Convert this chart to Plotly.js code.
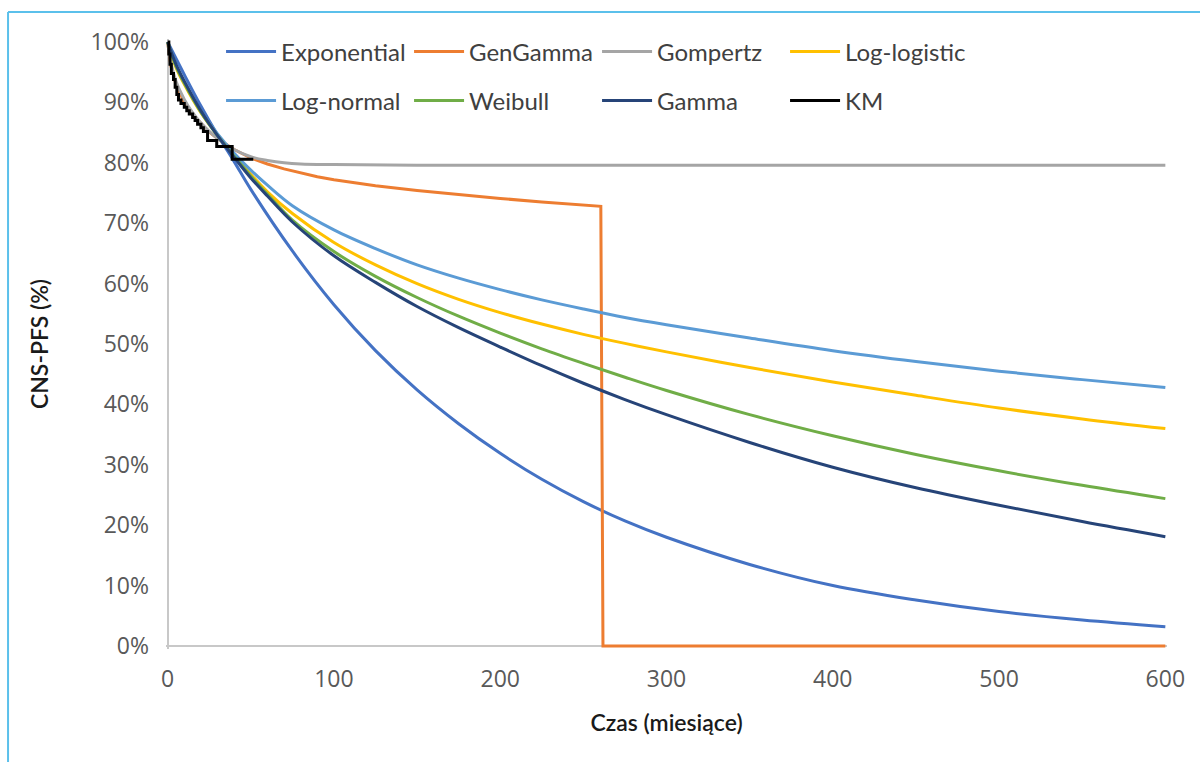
<!DOCTYPE html>
<html>
<head>
<meta charset="utf-8">
<script src="https://cdn.plot.ly/plotly-3.0.1.min.js"></script>
<style>
  html, body { margin: 0; padding: 0; background: #ffffff; }
  #chart { width: 1200px; height: 762px; }
</style>
</head>
<body>
<div id="chart"></div>
<script>
// ---- Data (survival, %) ----
const seriesNames = ["Exponential", "GenGamma", "Gompertz", "Log-logistic", "Log-normal", "Weibull", "Gamma", "KM"];
const seriesColors = ["#4472C4", "#ED7D31", "#A5A5A5", "#FFC000", "#5B9BD5", "#70AD47", "#264478", "#000000"];

const expT = [0, 10, 20, 30, 40, 50, 75, 100, 125, 150, 175, 200, 225, 250, 275, 300, 350, 400, 450, 500, 550, 600];
const expS = [100, 94.6, 89.4, 84.6, 80.2, 75.6, 65.4, 56.5, 48.9, 42.4, 36.8, 31.9, 27.6, 23.9, 20.7, 18.0, 13.5, 10.0, 7.6, 5.7, 4.3, 3.2];

const genGammaT = [0, 2, 5, 10, 15, 20, 25, 30, 40, 50, 60, 70, 80, 90, 100, 125, 150, 175, 200, 225, 250, 260.5, 261.8, 600];
const genGammaS = [100, 96, 93, 90, 88, 86.5, 85.1, 84, 82.2, 80.8, 79.8, 79.0, 78.3, 77.7, 77.2, 76.2, 75.4, 74.7, 74.1, 73.5, 73.0, 72.8, 0, 0];

const gompertzT = [0, 2, 5, 10, 15, 20, 25, 30, 40, 50, 60, 70, 80, 100, 150, 200, 300, 400, 500, 600];
const gompertzS = [100, 96.5, 93.5, 90.5, 88.3, 86.6, 85.2, 84.0, 82.2, 81.0, 80.4, 80.0, 79.8, 79.7, 79.6, 79.6, 79.6, 79.6, 79.6, 79.6];

const modelT = [0, 5, 10, 20, 30, 40, 50, 60, 75, 100, 125, 150, 175, 200, 225, 250, 275, 300, 350, 400, 450, 500, 550, 600];
const logLogisticS = [100, 95.8, 93.0, 88.3, 84.6, 81.3, 78.1, 75.2, 71.6, 66.8, 63.1, 60.0, 57.4, 55.2, 53.3, 51.6, 50.1, 48.7, 46.1, 43.7, 41.5, 39.4, 37.6, 36.0];
const logNormalS   = [100, 96.2, 93.4, 88.6, 84.8, 81.6, 78.8, 76.3, 72.9, 68.9, 65.8, 63.1, 60.9, 59.0, 57.3, 55.8, 54.4, 53.2, 51.0, 48.9, 47.1, 45.5, 44.1, 42.8];
const weibullS     = [100, 96.0, 93.2, 88.4, 84.5, 81.1, 77.8, 74.8, 70.5, 65.3, 61.2, 57.7, 54.6, 51.8, 49.2, 46.8, 44.5, 42.3, 38.3, 34.8, 31.7, 29.0, 26.6, 24.4];
const gammaS       = [100, 96.3, 93.5, 88.6, 84.5, 80.9, 77.5, 74.5, 70.2, 64.6, 60.2, 56.2, 52.7, 49.5, 46.4, 43.5, 40.8, 38.3, 33.7, 29.6, 26.2, 23.3, 20.6, 18.1];

const kmT = [0, 0.7, 1.4, 2.2, 3.5, 4.5, 5.5, 6.5, 8, 10, 11.5, 13, 15, 16.5, 18, 20, 21.5, 24, 29.5, 38.8, 51.5];
const kmS = [100, 98, 96.3, 94.8, 93.8, 92.5, 91.3, 90.4, 89.8, 89.2, 88.6, 88.1, 87.5, 87.0, 86.4, 85.8, 85.2, 83.7, 82.7, 80.6, 80.6];

const xTicks = [0, 100, 200, 300, 400, 500, 600];
const yTicks = [0, 10, 20, 30, 40, 50, 60, 70, 80, 90, 100];
const yTickText = yTicks.map(v => v + "%");

// ---- Traces ----
const seriesX = [expT, genGammaT, gompertzT, modelT, modelT, modelT, modelT, kmT];
const seriesY = [expS, genGammaS, gompertzS, logLogisticS, logNormalS, weibullS, gammaS, kmS];
const legendOf = ["legend", "legend", "legend", "legend", "legend2", "legend2", "legend2", "legend2"];

const traces = seriesNames.map((name, i) => ({
  type: "scatter",
  mode: "lines",
  name: name,
  x: seriesX[i],
  y: seriesY[i],
  legend: legendOf[i],
  line: {
    color: seriesColors[i],
    width: 3,
    shape: name === "KM" ? "hv" : (name === "GenGamma" ? "linear" : "spline"),
    smoothing: 1
  },
  hoverinfo: "x+y+name"
}));

const legendFont = { family: "Lato, 'Open Sans', sans-serif", size: 24, color: "#404040" };
const titleFont = { family: "Lato, sans-serif", size: 23, color: "#1a1a1a", weight: 600 };
const tickFont = { family: "'Open Sans', sans-serif", size: 23, color: "#595959" };

const layout = {
  width: 1200,
  height: 762,
  margin: { l: 166, r: 33, t: 39, b: 113 },
  paper_bgcolor: "#ffffff",
  plot_bgcolor: "#ffffff",
  showlegend: true,
  xaxis: {
    range: [-1, 601],
    tickvals: xTicks,
    ticktext: xTicks.map(String),
    showgrid: false,
    showline: false,
    zeroline: true,
    zerolinecolor: "#C8C8C8",
    zerolinewidth: 2,
    ticks: "",
    ticklabelstandoff: 14,
    tickfont: tickFont,
    title: { text: "Czas (miesiące)", font: titleFont, standoff: 21 }
  },
  yaxis: {
    range: [-0.5, 100.5],
    tickvals: yTicks,
    ticktext: yTickText,
    showgrid: false,
    showline: false,
    zeroline: true,
    zerolinecolor: "#C8C8C8",
    zerolinewidth: 2,
    ticks: "",
    ticklabelstandoff: 16,
    tickfont: tickFont,
    title: { text: "CNS-PFS (%)", font: titleFont, standoff: 35 }
  },
  legend: {
    orientation: "h",
    x: 0.055, xanchor: "left",
    y: 0.9787, yanchor: "middle",
    bgcolor: "rgba(0,0,0,0)",
    font: legendFont,
    itemwidth: 50,
    entrywidth: 123,
    traceorder: "normal"
  },
  legend2: {
    orientation: "h",
    x: 0.055, xanchor: "left",
    y: 0.8984, yanchor: "middle",
    bgcolor: "rgba(0,0,0,0)",
    font: legendFont,
    itemwidth: 50,
    entrywidth: 123,
    traceorder: "normal"
  },
  shapes: [
    { type: "line", xref: "paper", yref: "paper", x0: -0.1578, x1: 1.04, y0: 1.0443, y1: 1.0443, line: { color: "#5BC0EB", width: 2 } },
    { type: "line", xref: "paper", yref: "paper", x0: -0.1578, x1: -0.1578, y0: 1.0443, y1: -0.2, line: { color: "#5BC0EB", width: 2 } }
  ]
};

Plotly.newPlot("chart", traces, layout, { displayModeBar: false, staticPlot: true });
</script>
</body>
</html>
